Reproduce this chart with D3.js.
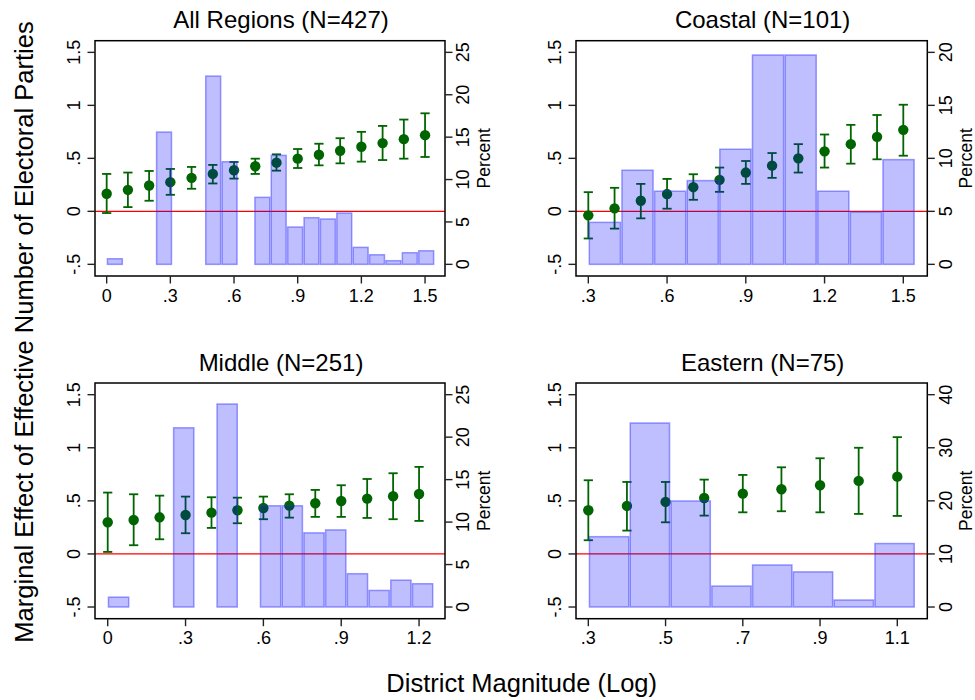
<!DOCTYPE html>
<html>
<head>
<meta charset="utf-8">
<script src="https://cdn.jsdelivr.net/npm/d3@7"></script>
<style>
  html, body { margin: 0; padding: 0; background: #fff; }
  svg { display: block; font-family: "Liberation Sans", Arial, Helvetica, sans-serif; }
</style>
</head>
<body>
<svg id="chart" width="975" height="700"></svg>
<script>
// ---- Marginal effects (point estimate, 95% CI) by log district magnitude ----
const allX   = [0, 0.1, 0.2, 0.3, 0.4, 0.5, 0.6, 0.7, 0.8, 0.9, 1.0, 1.1, 1.2, 1.3, 1.4, 1.5];
const allEst = [0.166, 0.203, 0.244, 0.275, 0.316, 0.353, 0.388, 0.425, 0.459, 0.497, 0.534, 0.572, 0.609, 0.644, 0.681, 0.719];
const allLo  = [-0.016, 0.040, 0.100, 0.156, 0.213, 0.263, 0.309, 0.353, 0.384, 0.409, 0.434, 0.453, 0.469, 0.484, 0.497, 0.513];
const allHi  = [0.353, 0.366, 0.381, 0.400, 0.419, 0.438, 0.466, 0.497, 0.538, 0.588, 0.638, 0.690, 0.750, 0.806, 0.866, 0.925];

const coastX   = [0.3, 0.4, 0.5, 0.6, 0.7, 0.8, 0.9, 1.0, 1.1, 1.2, 1.3, 1.4, 1.5];
const coastEst = [-0.038, 0.028, 0.100, 0.163, 0.228, 0.297, 0.366, 0.431, 0.500, 0.566, 0.634, 0.703, 0.769];
const coastLo  = [-0.256, -0.163, -0.066, 0.025, 0.109, 0.184, 0.259, 0.316, 0.366, 0.413, 0.450, 0.491, 0.525];
const coastHi  = [0.181, 0.222, 0.259, 0.306, 0.350, 0.413, 0.475, 0.550, 0.634, 0.725, 0.816, 0.909, 1.006];

const midX   = [0, 0.1, 0.2, 0.3, 0.4, 0.5, 0.6, 0.7, 0.8, 0.9, 1.0, 1.1, 1.2];
const midEst = [0.298, 0.320, 0.345, 0.367, 0.389, 0.411, 0.433, 0.455, 0.477, 0.499, 0.521, 0.543, 0.565];
const midLo  = [0.019, 0.082, 0.138, 0.195, 0.245, 0.289, 0.327, 0.342, 0.349, 0.349, 0.339, 0.327, 0.311];
const midHi  = [0.578, 0.562, 0.549, 0.540, 0.534, 0.530, 0.540, 0.562, 0.603, 0.647, 0.706, 0.760, 0.820];

const eastX   = [0.3, 0.4, 0.5, 0.6, 0.7, 0.8, 0.9, 1.0, 1.1];
const eastEst = [0.411, 0.452, 0.490, 0.527, 0.568, 0.609, 0.647, 0.688, 0.728];
const eastLo  = [0.129, 0.220, 0.298, 0.361, 0.392, 0.402, 0.392, 0.377, 0.358];
const eastHi  = [0.694, 0.678, 0.678, 0.700, 0.744, 0.816, 0.901, 1.000, 1.100];

// ---- Histograms of log district magnitude (percent of districts per bin) ----
const allBinStart = 0,     allBinWidth = 0.0772;
const allBinIdx = [0, 3, 6, 7, 9, 10, 11, 12, 13, 14, 15, 16, 17, 18, 19];
const allPct    = [0.66, 15.6, 22.2, 12.1, 7.9, 12.85, 4.4, 5.5, 5.35, 6.05, 2.0, 1.13, 0.43, 1.37, 1.6];

const coastBinStart = 0.301, coastBinWidth = 0.1243;
const coastBinIdx = [0, 1, 2, 3, 4, 5, 6, 7, 8, 9];
const coastPct    = [3.96, 8.88, 6.9, 7.9, 10.86, 19.75, 19.75, 6.9, 4.93, 9.88];

const midBinStart = 0,     midBinWidth = 0.0837;
const midBinIdx = [0, 3, 5, 7, 8, 9, 10, 11, 12, 13, 14];
const midPct    = [1.16, 21.1, 23.9, 11.92, 11.92, 8.73, 9.08, 3.92, 1.95, 3.16, 2.74];

const eastBinStart = 0.301, eastBinWidth = 0.1056;
const eastBinIdx = [0, 1, 2, 3, 4, 5, 6, 7];
const eastPct    = [13.25, 34.66, 19.98, 3.95, 7.92, 6.62, 1.32, 11.96];

// ---- Axis ticks ----
const yTicks = [-0.5, 0, 0.5, 1, 1.5];
const allXTicks   = [0, 0.3, 0.6, 0.9, 1.2, 1.5];
const coastXTicks = [0.3, 0.6, 0.9, 1.2, 1.5];
const midXTicks   = [0, 0.3, 0.6, 0.9, 1.2];
const eastXTicks  = [0.3, 0.5, 0.7, 0.9, 1.1];
const allPctTicks   = [0, 5, 10, 15, 20, 25];
const coastPctTicks = [0, 5, 10, 15, 20];
const midPctTicks   = [0, 5, 10, 15, 20, 25];
const eastPctTicks  = [0, 10, 20, 30, 40];

const titles = ["All Regions (N=427)", "Coastal (N=101)", "Middle (N=251)", "Eastern (N=75)"];
const yTitle = "Marginal Effect of Effective Number of Electoral Parties";
const xTitle = "District Magnitude (Log)";
const pctTitle = "Percent";

// ---- Panel layout ----
const panels = [
  { title: titles[0], x0: 95,  x1: 445,   y0: 40.7, y1: 276,
    xDom: [-0.055, 1.594], pctPerUnit: 12.5,
    x: allX, est: allEst, lo: allLo, hi: allHi,
    binStart: allBinStart, binWidth: allBinWidth, binIdx: allBinIdx, pct: allPct,
    xTicks: allXTicks, pctTicks: allPctTicks },
  { title: titles[1], x0: 576, x1: 927.3, y0: 40.7, y1: 276,
    xDom: [0.2531, 1.5914], pctPerUnit: 10,
    x: coastX, est: coastEst, lo: coastLo, hi: coastHi,
    binStart: coastBinStart, binWidth: coastBinWidth, binIdx: coastBinIdx, pct: coastPct,
    xTicks: coastXTicks, pctTicks: coastPctTicks },
  { title: titles[2], x0: 95,  x1: 445,   y0: 383, y1: 618.7,
    xDom: [-0.0490, 1.300], pctPerUnit: 12.5,
    x: midX, est: midEst, lo: midLo, hi: midHi,
    binStart: midBinStart, binWidth: midBinWidth, binIdx: midBinIdx, pct: midPct,
    xTicks: midXTicks, pctTicks: midPctTicks },
  { title: titles[3], x0: 576, x1: 927.3, y0: 383, y1: 618.7,
    xDom: [0.2681, 1.1777], pctPerUnit: 20,
    x: eastX, est: eastEst, lo: eastLo, hi: eastHi,
    binStart: eastBinStart, binWidth: eastBinWidth, binIdx: eastBinIdx, pct: eastPct,
    xTicks: eastXTicks, pctTicks: eastPctTicks }
];

const yDom = [-0.61, 1.61];
const green = "#006400";
const fmt = v => {
  let s = String(+v.toFixed(2));
  return s.replace(/^0\./, ".").replace(/^-0\./, "-.");
};

const svg = d3.select("#chart");

panels.forEach(p => {
  const g = svg.append("g");
  const x = d3.scaleLinear().domain(p.xDom).range([p.x0, p.x1]);
  const y = d3.scaleLinear().domain(yDom).range([p.y1, p.y0]);
  const yp = d3.scaleLinear()
    .domain([(yDom[0] + 0.5) * p.pctPerUnit, (yDom[1] + 0.5) * p.pctPerUnit])
    .range([p.y1, p.y0]);

  // white plot region
  g.append("rect").attr("x", p.x0).attr("y", p.y0)
    .attr("width", p.x1 - p.x0).attr("height", p.y1 - p.y0).attr("fill", "#fff");

  // reference line at zero
  g.append("line")
    .attr("x1", p.x0).attr("x2", p.x1)
    .attr("y1", y(0)).attr("y2", y(0))
    .attr("stroke", "#ff0000").attr("stroke-width", 1.2);

  // confidence intervals
  const pts = p.x.map((xv, i) => ({ x: xv, est: p.est[i], lo: p.lo[i], hi: p.hi[i] }));
  const ci = g.append("g").attr("stroke", green).attr("stroke-width", 1.8).attr("fill", "none");
  ci.selectAll("line.v").data(pts).join("line").attr("class", "v")
    .attr("x1", d => x(d.x)).attr("x2", d => x(d.x))
    .attr("y1", d => y(d.lo)).attr("y2", d => y(d.hi));
  ci.selectAll("line.t").data(pts).join("line").attr("class", "t")
    .attr("x1", d => x(d.x) - 4.6).attr("x2", d => x(d.x) + 4.6)
    .attr("y1", d => y(d.hi)).attr("y2", d => y(d.hi));
  ci.selectAll("line.b").data(pts).join("line").attr("class", "b")
    .attr("x1", d => x(d.x) - 4.6).attr("x2", d => x(d.x) + 4.6)
    .attr("y1", d => y(d.lo)).attr("y2", d => y(d.lo));

  // point estimates
  g.append("g").selectAll("circle").data(pts).join("circle")
    .attr("cx", d => x(d.x)).attr("cy", d => y(d.est))
    .attr("r", 5.2).attr("fill", green);

  // translucent histogram drawn over the estimates
  const bins = p.binIdx.map((bi, i) => ({
    a: p.binStart + bi * p.binWidth,
    b: p.binStart + (bi + 1) * p.binWidth,
    pct: p.pct[i]
  }));
  g.append("g").selectAll("rect").data(bins).join("rect")
    .attr("x", d => x(d.a) + 0.75)
    .attr("width", d => x(d.b) - x(d.a) - 1.5)
    .attr("y", d => yp(d.pct))
    .attr("height", d => yp(0) - yp(d.pct))
    .attr("fill", "rgba(0,0,255,0.25)")
    .attr("stroke", "rgba(40,40,255,0.45)")
    .attr("stroke-width", 1.5);

  // frame
  g.append("rect").attr("x", p.x0).attr("y", p.y0)
    .attr("width", p.x1 - p.x0).attr("height", p.y1 - p.y0)
    .attr("fill", "none").attr("stroke", "#000").attr("stroke-width", 1.5);

  // left axis
  const tickCol = "#222";
  yTicks.forEach(t => {
    g.append("line").attr("x1", p.x0 - 7.5).attr("x2", p.x0)
      .attr("y1", y(t)).attr("y2", y(t)).attr("stroke", tickCol).attr("stroke-width", 1.4);
    g.append("text").attr("transform", `translate(${p.x0 - 15.5},${y(t)}) rotate(-90)`)
      .attr("text-anchor", "middle").attr("font-size", 18).attr("fill", "#000").text(fmt(t));
  });

  // right axis (percent)
  p.pctTicks.forEach(t => {
    g.append("line").attr("x1", p.x1).attr("x2", p.x1 + 7.5)
      .attr("y1", yp(t)).attr("y2", yp(t)).attr("stroke", tickCol).attr("stroke-width", 1.4);
    g.append("text").attr("transform", `translate(${p.x1 + 24.3},${yp(t)}) rotate(-90)`)
      .attr("text-anchor", "middle").attr("font-size", 18).attr("fill", "#000").text(String(t));
  });
  g.append("text")
    .attr("transform", `translate(${p.x1 + 45},${(p.y0 + p.y1) / 2}) rotate(-90)`)
    .attr("text-anchor", "middle").attr("font-size", 17.5).attr("fill", "#000").text(pctTitle);

  // bottom axis
  p.xTicks.forEach(t => {
    g.append("line").attr("x1", x(t)).attr("x2", x(t))
      .attr("y1", p.y1).attr("y2", p.y1 + 7.5).attr("stroke", tickCol).attr("stroke-width", 1.4);
    g.append("text").attr("x", x(t)).attr("y", p.y1 + 25.7)
      .attr("text-anchor", "middle").attr("font-size", 18).attr("fill", "#000").text(fmt(t));
  });

  // panel title
  g.append("text").attr("x", (p.x0 + p.x1) / 2 + 11).attr("y", p.y0 - 12.4)
    .attr("text-anchor", "middle").attr("font-size", 24).attr("fill", "#000").text(p.title);
});

// shared axis titles
svg.append("text").attr("transform", "translate(33,332) rotate(-90)")
  .attr("text-anchor", "middle").attr("font-size", 25.5).attr("fill", "#000").text(yTitle);
svg.append("text").attr("x", 521.7).attr("y", 691.7)
  .attr("text-anchor", "middle").attr("font-size", 25.5).attr("fill", "#000").text(xTitle);
</script>
</body>
</html>
